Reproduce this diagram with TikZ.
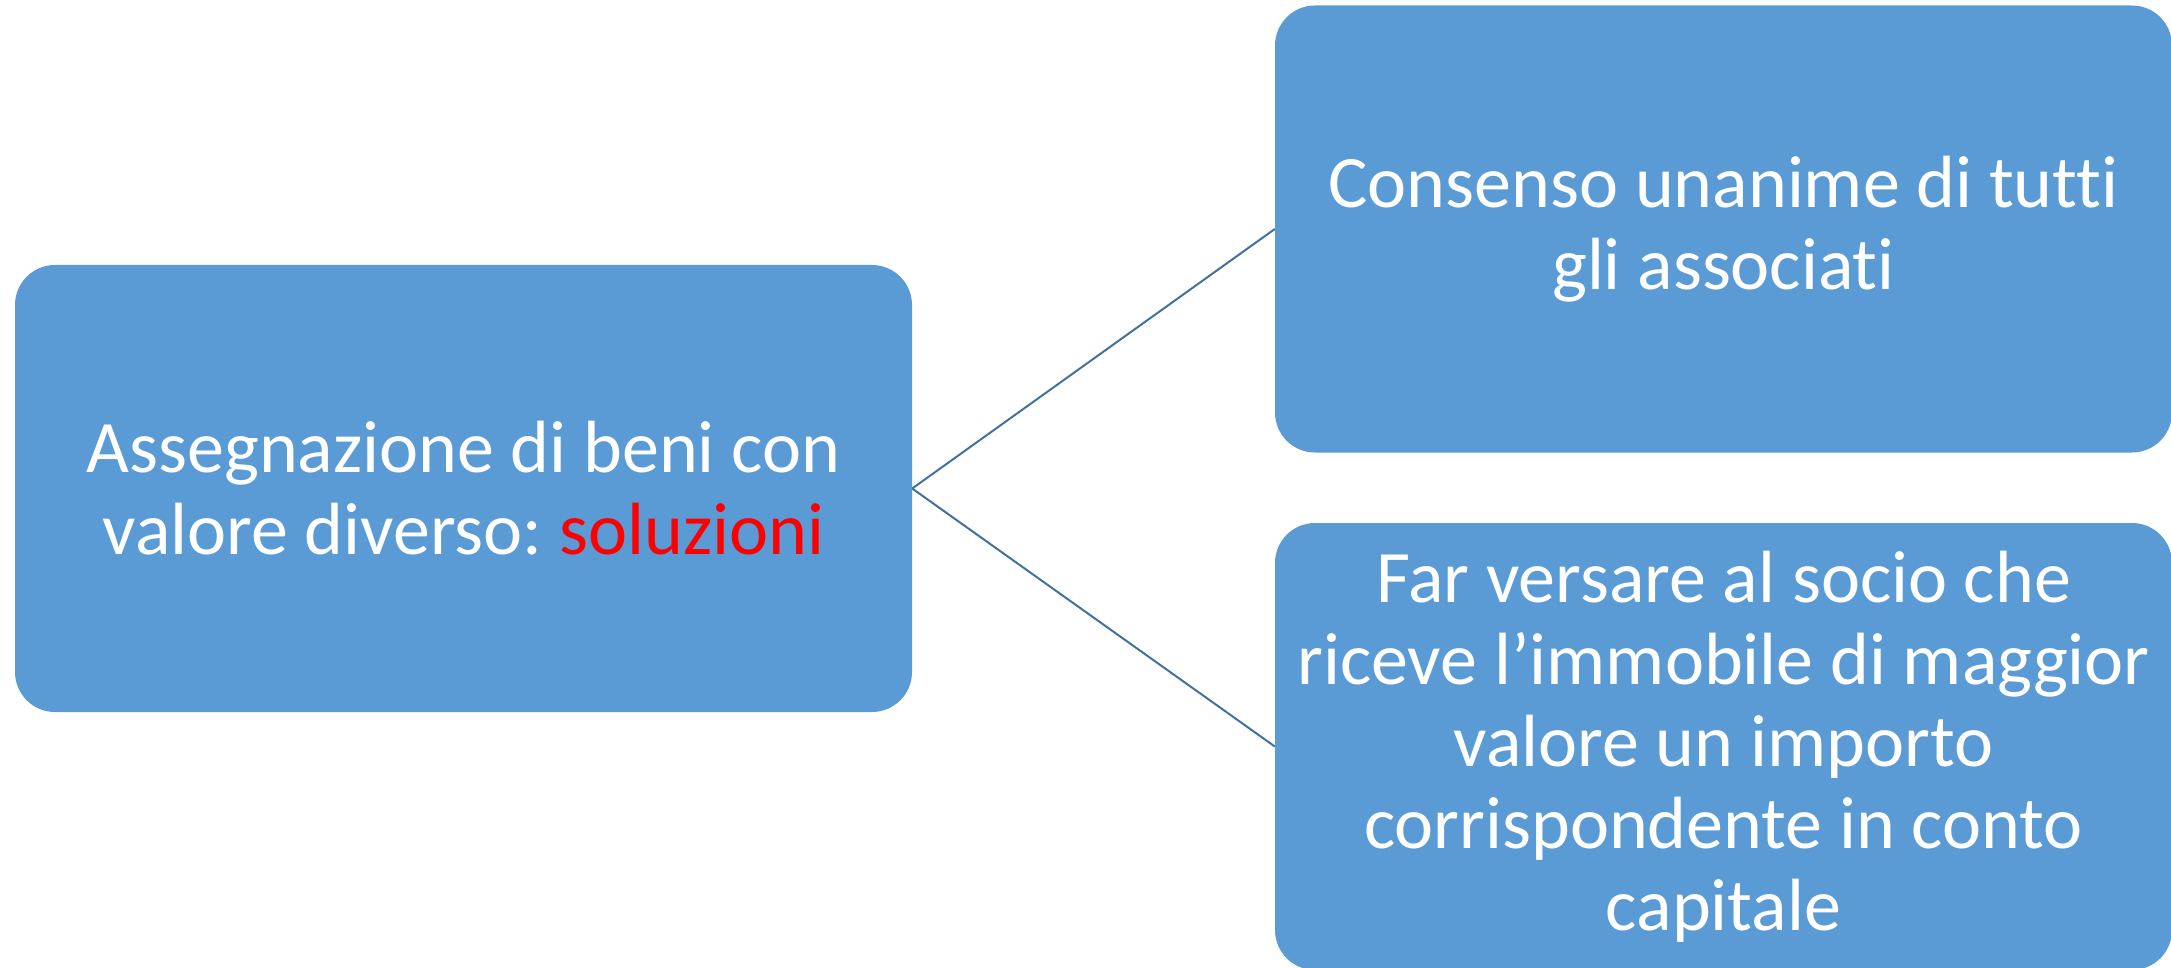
\documentclass[tikz,border=0pt]{standalone}
\usepackage{fontspec}
\setmainfont[Ligatures=NoCommon]{Carlito}
\definecolor{boxblue}{HTML}{5B9BD5}
\definecolor{linkblue}{HTML}{41719C}
\definecolor{hotred}{HTML}{FF0000}
\begin{document}
\frenchspacing
\begin{tikzpicture}[x=1pt,y=-1pt,
  card/.style={fill=boxblue, draw=none, rounded corners=40pt,
    minimum width=897pt, minimum height=447pt, inner sep=0pt,
    text=white, align=center, font=\fontsize{74}{82}\selectfont},
  link/.style={draw=linkblue, line width=2pt}]
\useasboundingbox (0,0) rectangle (2171,968);
\node[card] (main) at (463.5,488.5) {Assegnazione di beni con\\valore diverso: \textcolor{hotred}{soluzioni}};
\node[card] (top) at (1723.5,229) {Consenso unanime di tutti\\gli associati};
\node[card] (bot) at (1723.5,746.5) {Far versare al socio che\\riceve l’immobile di maggior\\valore un importo\\corrispondente in conto\\capitale};
\draw[link] (main.east) -- (top.west);
\draw[link] (main.east) -- (bot.west);
\end{tikzpicture}
\end{document}
